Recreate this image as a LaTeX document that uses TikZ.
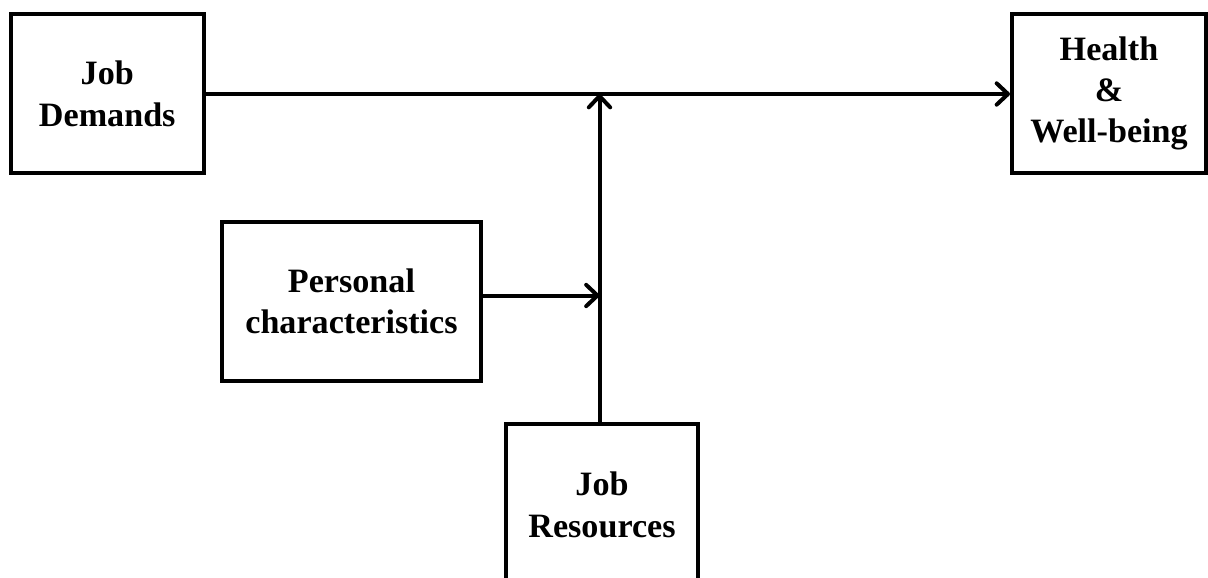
\documentclass[tikz,border=0pt]{standalone}
\usepackage{fontspec}
\setmainfont{Liberation Serif}
\usetikzlibrary{arrows.meta}
\begin{document}
\begin{tikzpicture}[x=0.75pt,y=-0.75pt,
  box/.style={draw=black, line width=3pt, inner sep=0pt, align=center,
    font=\fontsize{25.6}{31}\selectfont\bfseries},
  conn/.style={line width=3pt, -{Straight Barb[length=8.5pt,width=16pt,line cap=round,line join=round]}}]
\useasboundingbox (0,0) rectangle (1208,578);
\clip (0,0) rectangle (1208,578);
\node[box, minimum width=145.1pt, minimum height=118.9pt] (jd) at (107.25,93.75) {Job\\Demands};
\node[box, minimum width=145.5pt, minimum height=119.25pt] (hw) at (1109,93.5) {Health\\\&\\Well-being};
\node[box, minimum width=194.25pt, minimum height=119.25pt] (pc) at (351.5,301.5) {Personal\\characteristics};
\node[box, minimum width=144pt, minimum height=121.5pt] (jr) at (602,505) {Job\\Resources};
\coordinate (m) at (599.5,94);
\coordinate (p) at (599.5,295.5);
\draw[conn] (jd.east |- m) -- (hw.west |- m);
\draw[conn] (m |- jr.north) -- (m);
\draw[conn] (pc.east |- p) -- (p);
\end{tikzpicture}
\end{document}
